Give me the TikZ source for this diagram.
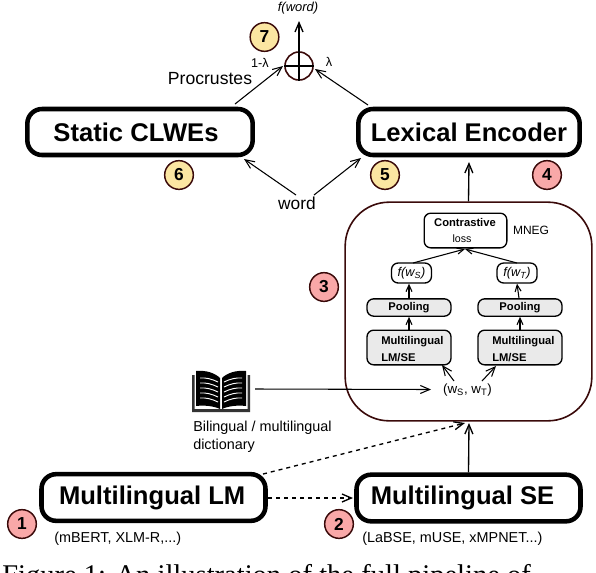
\documentclass[tikz,border=0pt]{standalone}
\usepackage{fontspec}
\setmainfont{Liberation Sans}
\newfontfamily\capfont{Liberation Serif}
\usetikzlibrary{arrows.meta}
\definecolor{dk}{HTML}{3A0A0A}
\definecolor{pinkc}{HTML}{F9A8A8}
\definecolor{yelc}{HTML}{FBE6A2}
\definecolor{grayc}{HTML}{EAEAEA}
\tikzset{x=0.75pt,y=-0.75pt,
 bigbox/.style={draw=black,line width=3.4pt,rounded corners=11pt,fill=white,inner sep=0pt,font=\bfseries\fontsize{19.2}{20}\selectfont},
 smallbox/.style={draw=black,line width=1pt,rounded corners=5pt,inner sep=0pt,align=left},
 num/.style={circle,draw=dk,line width=1.1pt,minimum size=21.5pt,inner sep=0pt,font=\bfseries\fontsize{13}{13}\selectfont},
 arr/.style={-{Straight Barb[length=7pt,width=6pt]},line width=0.8pt,black},
 thinarr/.style={-{Straight Barb[length=5pt,width=4.5pt]},line width=0.8pt,black},
 lab/.style={inner sep=0pt,font=\fontsize{10.8}{12}\selectfont,align=left,anchor=west},
 boldlab/.style={inner sep=0pt,font=\bfseries\fontsize{8.4}{9}\selectfont}
}
\begin{document}
\begin{tikzpicture}
\useasboundingbox (0,0) rectangle (596,572);
% big frame
\node[draw=dk,line width=1.2pt,rounded corners=33pt,minimum width=185pt,minimum height=164pt,inner sep=0pt] (frame) at (468.5,311.5) {};
% big boxes
\node[bigbox,minimum width=169pt,minimum height=34.5pt] (clwe) at (140,132) {\kern-6pt Static CLWEs};
\node[bigbox,minimum width=166pt,minimum height=34.5pt] (lex) at (469,132) {Lexical Encoder};
\node[bigbox,minimum width=168pt,minimum height=35pt] (mlm) at (153.5,497.5) {\kern-2pt Multilingual LM};
\node[bigbox,minimum width=168pt,minimum height=35pt] (mse) at (468.5,498) {\kern-9pt Multilingual SE};
% plus
\node[circle,draw=dk,line width=1.2pt,minimum size=21pt,inner sep=0pt] (plus) at (299,66) {};
\draw[line width=0.9pt] (plus.north) -- (plus.south) (plus.west) -- (plus.east);
\node[inner sep=0pt,font=\itshape\fontsize{9.7}{10}\selectfont] (fw) at (298,8) {f(word)};
\coordinate (fwb) at (299,21);
\draw[arr,line width=1pt] (plus.north) -- (fwb);
\node[inner sep=0pt,font=\fontsize{9.5}{10}\selectfont] (onel) at (260,63) {1-λ};
\node[inner sep=0pt,font=\fontsize{9.5}{10}\selectfont] (ll) at (329,62) {λ};
\node[inner sep=0pt,font=\fontsize{13.2}{14}\selectfont] (proc) at (210,79) {Procrustes};
\coordinate (c1) at (235,104);
\coordinate (c2) at (368,105);
\coordinate (t1) at (283,66);
\coordinate (t2) at (315,69);
\draw[arr] (c1) -- (t1);
\draw[arr] (c2) -- (t2);
\node[inner sep=0pt,font=\fontsize{13}{14}\selectfont] (word) at (297,203) {word};
\coordinate (c3) at (296,195);
\coordinate (c4) at (314,195);
\coordinate (t3) at (244,159);
\coordinate (t4) at (361,158);
\draw[arr] (c3) -- (t3);
\draw[arr] (c4) -- (t4);
% numbers
\node[num,fill=yelc] (n7) at (264.5,37) {7};
\node[num,fill=yelc] (n6) at (179,175) {6};
\node[num,fill=yelc] (n5) at (385,175) {5};
\node[num,fill=pinkc] (n4) at (547,175) {4};
\node[num,fill=pinkc] (n3) at (324,287) {3};
\node[num,fill=pinkc] (n2) at (339,524) {2};
\node[num,fill=pinkc] (n1) at (22,524) {1};
% inner
\node[smallbox,minimum width=62pt,minimum height=26pt] (con) at (465.5,230.5) {};
\node[boldlab] (cona) at (465,222) {Contrastive};
\node[inner sep=0pt,font=\fontsize{8}{9}\selectfont] (conb) at (462,238.5) {loss};
\node[inner sep=0pt,font=\fontsize{9}{10}\selectfont] (mneg) at (531,230) {MNEG};
\node[smallbox,minimum width=30pt,minimum height=15pt,font=\fontsize{9.5}{10}\selectfont] (fs) at (411.5,273) {\itshape f(w\textsubscript{S})};
\node[smallbox,minimum width=30pt,minimum height=15pt,font=\fontsize{9.5}{10}\selectfont] (ft) at (517,273) {\itshape f(w\textsubscript{T})};
\node[smallbox,fill=grayc,minimum width=63pt,minimum height=13pt,font=\bfseries\fontsize{8.4}{9}\selectfont] (pa) at (409,307.5) {Pooling};
\node[smallbox,fill=grayc,minimum width=63pt,minimum height=13pt,font=\bfseries\fontsize{8.4}{9}\selectfont] (pb) at (520,307.5) {Pooling};
\node[smallbox,fill=grayc,minimum width=63pt,minimum height=26pt] (ma) at (409,347.5) {};
\node[smallbox,fill=grayc,minimum width=63pt,minimum height=26pt] (mb) at (520,347.5) {};
\node[boldlab,anchor=west] (mat) at (381,342) {Multilingual};
\node[boldlab,anchor=west] (mab) at (381,358) {LM/SE};
\node[boldlab,anchor=west] (mbt) at (492,342) {Multilingual};
\node[boldlab,anchor=west] (mbb) at (492,358) {LM/SE};
\node[inner sep=0pt,font=\fontsize{10}{11}\selectfont] (ws) at (467.5,390) {(w\textsubscript{S}, w\textsubscript{T})};
\draw[thinarr] (ma.north) -- (pa.south);
\draw[thinarr] (mb.north) -- (pb.south);
\draw[thinarr] (pa.north) -- (pa.north |- fs.south);
\draw[thinarr] (pb.north) ++(-1,0) -- (ft.south);
\coordinate (cs) at (465,249);
\coordinate (fsn) at (413,263);
\coordinate (ftn) at (517,263);
\draw[thinarr] (fsn) -- (cs);
\draw[thinarr] (ftn) -- (cs);
\coordinate (w1) at (454,381);
\coordinate (w2) at (482,381);
\coordinate (w1t) at (442,365);
\coordinate (w2t) at (496,366);
\draw[arr] (w1) -- (w1t);
\draw[arr] (w2) -- (w2t);
% to lexical
\coordinate (lexb) at (469,162);
\draw[arr,line width=1pt] (frame.north) -- (lexb);
\coordinate (fb) at (469,423);
\draw[arr,line width=1pt] (mse.north) -- (fb);
% dashed
\coordinate (d1) at (263,474);
\coordinate (d1t) at (465,423);
\coordinate (d2a) at (268,498);
\coordinate (d2b) at (353,498);
\draw[arr,dashed,line width=1pt] (d1) -- (d1t);
\draw[arr,dashed,line width=1pt] (d2a) -- (d2b);
% book
\coordinate (bk) at (192,371);
\begin{scope}[shift={(bk)}]
\fill[black!80] (0,4) -- (0,41) -- (58,41) -- (58,4) -- (55.5,4) -- (55.5,38) -- (2.5,38) -- (2.5,4) -- cycle;
\fill[black] (4,0) .. controls (14,-1) and (23,2) .. (28,7) -- (28,38) .. controls (22,35) and (12,34) .. (4,35) -- cycle;
\fill[black] (54,0) .. controls (44,-1) and (35,2) .. (30,7) -- (30,38) .. controls (36,35) and (46,34) .. (54,35) -- cycle;
\foreach \y in {7,12,17,22,27}{
 \draw[white,line width=0.7pt] (8,\y) .. controls (14,\y-0.5) and (20,\y+1) .. (26,\y+4);
 \draw[white,line width=0.7pt] (50,\y) .. controls (44,\y-0.5) and (38,\y+1) .. (32,\y+4);
}
\end{scope}
\coordinate (bkr) at (255,389);
\coordinate (bkt) at (431,389.5);
\draw[arr] (bkr) -- (bkt);
\node[lab] (dict) at (193,428) {Bilingual / multilingual};
\node[lab] (dict2) at (193,446) {dictionary};
\node[lab] (sub1) at (54,539) {(mBERT, XLM-R,...)};
\node[lab] (sub2) at (362,538.5) {(LaBSE, mUSE, xMPNET...)};
% caption, cut by the lower edge as in the reference
\begin{scope}
\clip (0,0) rectangle (596,572);
\node[inner sep=0pt,anchor=base west,font=\capfont\fontsize{21.4}{22}\selectfont] (cap) at (2,584) {Figure 1: An illustration of the full pipeline of};
\end{scope}
\end{tikzpicture}
\end{document}
